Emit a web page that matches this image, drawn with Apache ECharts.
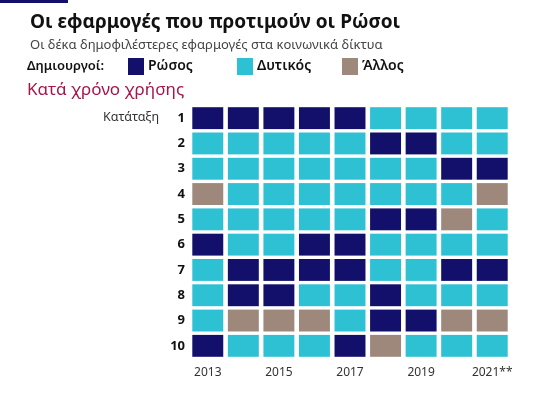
<!DOCTYPE html>
<html>
<head>
<meta charset="utf-8">
<script src="https://cdn.jsdelivr.net/npm/echarts@6/dist/echarts.min.js"></script>
<style>html,body{margin:0;padding:0;background:#fff}#c{width:554px;height:395px}</style>
</head>
<body>
<div id="c"></div>
<script>
const years = ['2013','2014','2015','2016','2017','2018','2019','2020','2021**'];
const ranks = ['1','2','3','4','5','6','7','8','9','10'];
const creatorNames = { R: 'Ρώσος', W: 'Δυτικός', O: 'Άλλος' };
const rank1  = ['R','R','R','R','R','W','W','W','W'];
const rank2  = ['W','W','W','W','W','R','R','W','W'];
const rank3  = ['W','W','W','W','W','W','W','R','R'];
const rank4  = ['O','W','W','W','W','W','W','W','O'];
const rank5  = ['W','W','W','W','W','R','R','O','W'];
const rank6  = ['R','W','W','R','R','W','W','W','W'];
const rank7  = ['W','R','R','R','R','W','W','R','R'];
const rank8  = ['W','R','R','W','W','R','W','W','W'];
const rank9  = ['W','O','O','O','W','R','R','O','O'];
const rank10 = ['R','W','W','W','R','O','W','W','W'];
const rankRows = [rank1,rank2,rank3,rank4,rank5,rank6,rank7,rank8,rank9,rank10];

const colors = { R: '#13106b', W: '#2ec1d4', O: '#9e887c' };
const FONT = 'Noto Sans';

function seriesFor(code) {
  const data = [];
  rankRows.forEach((row, r) => row.forEach((v, c) => { if (v === code) data.push([c, r]); }));
  return {
    type: 'custom',
    name: creatorNames[code],
    itemStyle: { color: colors[code] },
    data: data,
    renderItem: function (params, api) {
      const p = api.coord([api.value(0), api.value(1)]);
      const s = api.size([1, 1]);
      const w = s[0] - 4.6, h = s[1] - 3.4;
      return { type: 'rect', shape: { x: p[0] - w / 2, y: p[1] - h / 2, width: w, height: h },
               style: { fill: colors[code] } };
    }
  };
}

function legendAt(name, left) {
  return {
    left: left, top: 53, data: [name], icon: 'rect', itemWidth: 16, itemHeight: 17, itemGap: 0,
    selectedMode: false,
    textStyle: { fontFamily: FONT, fontSize: 14, fontWeight: 600, color: '#111', padding: [0, 0, 0, -1] }
  };
}

const chart = echarts.init(document.getElementById('c'));
chart.setOption({
  animation: false,
  textStyle: { fontFamily: FONT },
  title: {
    text: 'Οι εφαρμογές που προτιμούν οι Ρώσοι',
    subtext: 'Οι δέκα δημοφιλέστερες εφαρμογές στα κοινωνικά δίκτυα',
    left: 25, top: 8, itemGap: 7,
    textStyle: { fontFamily: FONT, fontSize: 19, fontWeight: 'bold', color: '#111' },
    subtextStyle: { fontFamily: FONT, fontSize: 13, color: '#444' }
  },
  legend: [legendAt(creatorNames.R, 123), legendAt(creatorNames.W, 232), legendAt(creatorNames.O, 337)],
  graphic: [
    { type: 'rect', left: 0, top: 0, shape: { width: 68, height: 3 }, style: { fill: '#13106b' } },
    { type: 'text', left: 27, top: 60, style: { text: 'Δημιουργοί:', font: '600 13px "Noto Sans"', fill: '#111' } },
    { type: 'text', left: 27, top: 82, style: { text: 'Κατά χρόνο χρήσης', font: '17px "Noto Sans"', fill: '#a3164a' } },
    { type: 'text', left: 103, top: 111, style: { text: 'Κατάταξη', font: '12.5px "Noto Sans"', fill: '#333' } }
  ],
  grid: { left: 190, width: 320, top: 105.5, height: 253 },
  xAxis: {
    type: 'category', data: years, position: 'bottom',
    axisLine: { show: false }, axisTick: { show: false }, splitLine: { show: false },
    axisLabel: { interval: 1, margin: 8, fontFamily: FONT, fontSize: 12, color: '#333' }
  },
  yAxis: {
    type: 'category', data: ranks, inverse: true,
    axisLine: { show: false }, axisTick: { show: false }, splitLine: { show: false },
    axisLabel: { margin: 5, fontFamily: FONT, fontSize: 13, fontWeight: 'bold', color: '#111' }
  },
  series: [seriesFor('R'), seriesFor('W'), seriesFor('O')]
});
</script>
</body>
</html>
